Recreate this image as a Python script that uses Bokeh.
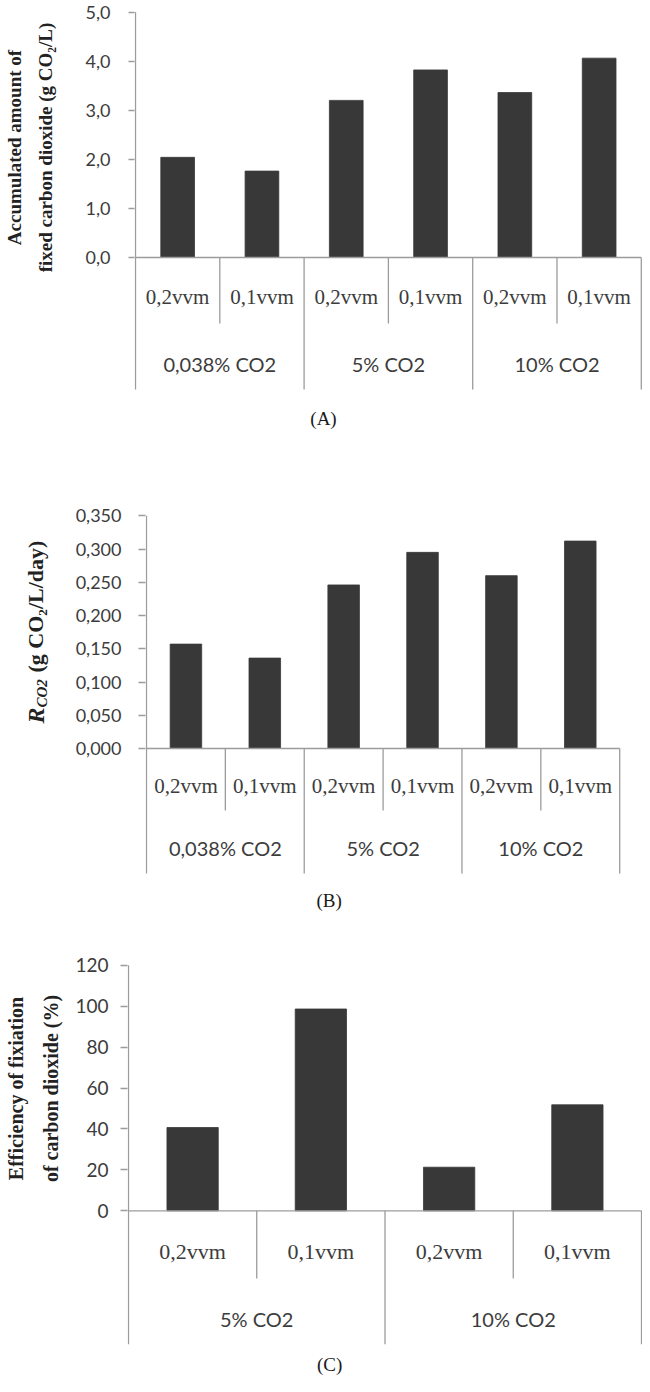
import math
from bokeh.plotting import figure
from bokeh.models import Range1d, FixedTicker
from bokeh.layouts import column, row
from bokeh.embed import file_html
from bokeh.resources import INLINE
from bokeh.core.properties import value

# ---------------- data ----------------
a_sub = ["0,2vvm", "0,1vvm", "0,2vvm", "0,1vvm", "0,2vvm", "0,1vvm"]
a_groups = ["0,038% CO2", "5% CO2", "10% CO2"]
a_values = [2.04, 1.76, 3.20, 3.82, 3.36, 4.06]
a_ticks = [0, 1, 2, 3, 4, 5]
a_tick_labels = ["0,0", "1,0", "2,0", "3,0", "4,0", "5,0"]
a_title = ["Accumulated amount of", "fixed carbon dioxide (g CO\u2082/L)"]
a_caption = "(A)"

b_sub = ["0,2vvm", "0,1vvm", "0,2vvm", "0,1vvm", "0,2vvm", "0,1vvm"]
b_groups = ["0,038% CO2", "5% CO2", "10% CO2"]
b_values = [0.157, 0.136, 0.246, 0.295, 0.260, 0.312]
b_ticks = [0, 0.05, 0.10, 0.15, 0.20, 0.25, 0.30, 0.35]
b_tick_labels = ["0,000", "0,050", "0,100", "0,150", "0,200", "0,250", "0,300", "0,350"]
b_title = ["R", "CO2", "(g CO\u2082/L/day)"]
b_caption = "(B)"

c_sub = ["0,2vvm", "0,1vvm", "0,2vvm", "0,1vvm"]
c_groups = ["5% CO2", "10% CO2"]
c_values = [40.7, 98.6, 21.3, 51.8]
c_ticks = [0, 20, 40, 60, 80, 100, 120]
c_tick_labels = ["0", "20", "40", "60", "80", "100", "120"]
c_title = ["Efficiency of fixiation", "of carbon dioxide (%)"]
c_caption = "(C)"

# ---------------- layout (page pixels) ----------------
PAGE_LEFT = 8
PAGE_RIGHT = 650
TITLE_W = 72
BAR = "#383838"
LINE = "#9c9c9c"
TXT = "#3c3c3c"
TITLE_C = "#222222"

LA = dict(fig_top=8, fig_h=432, axis_x=143, slot=84.3, zero_y=265, top_y=19.5,
          sub_y=304, short_b=331, group_y=371, long_b=397, cap_y=426,
          tick_out=6, standoff=18, tick_fs="18px", sub_fs="21px", grp_fs="20px")
LB = dict(fig_top=440, fig_h=485, axis_x=145, slot=80.3, zero_y=756, top_y=523.3,
          sub_y=793.5, short_b=818, group_y=855, long_b=881, cap_y=908,
          tick_out=7, standoff=17, tick_fs="18px", sub_fs="21px", grp_fs="20px")
LC = dict(fig_top=925, fig_h=459, axis_x=126, slot=130.75, zero_y=1218.3, top_y=972.7,
          sub_y=1259.3, short_b=1286, group_y=1326, long_b=1351.7, cap_y=1372,
          tick_out=7, standoff=12, tick_fs="19px", sub_fs="22px", grp_fs="20px")


def title_panel(L):
    """Narrow figure left of the chart that holds the rotated y-axis title."""
    top, h = L["fig_top"], L["fig_h"]
    t = figure(width=TITLE_W, height=h,
               x_range=Range1d(PAGE_LEFT, PAGE_LEFT + TITLE_W),
               y_range=Range1d(-(top + h), -top),
               output_backend="svg", toolbar_location=None, tools="",
               x_axis_location=None, y_axis_location=None,
               min_border_left=0, min_border_right=0,
               min_border_top=0, min_border_bottom=0)
    t.outline_line_color = None
    t.grid.visible = False
    return t


def make_chart(sub, groups, values, ticks, tick_labels, caption, L):
    top, h = L["fig_top"], L["fig_h"]
    left, slot = L["axis_x"], L["slot"]
    y0 = L["zero_y"]
    unit = (y0 - L["top_y"]) / ticks[-1]
    n = len(values)

    def xd(px):
        return (px - left) / slot

    def yd(py):
        return (y0 - py) / unit

    x_start = -1.0 / slot
    x_end = (PAGE_RIGHT - left) / slot
    p = figure(width=PAGE_RIGHT - PAGE_LEFT - TITLE_W, height=h,
               x_range=Range1d(x_start, x_end),
               y_range=Range1d(yd(top + h), yd(top)),
               output_backend="svg", toolbar_location=None, tools="",
               x_axis_location=None,
               min_border_left=int(round(left - 1 - PAGE_LEFT - TITLE_W)),
               min_border_right=0, min_border_top=0, min_border_bottom=0)
    p.outline_line_color = None
    p.grid.visible = False

    ax = p.yaxis[0]
    ax.ticker = FixedTicker(ticks=ticks)
    ax.major_label_overrides = {t: lab for t, lab in zip(ticks, tick_labels)}
    ax.axis_line_color = None
    ax.major_tick_line_color = LINE
    ax.major_tick_line_width = 1.3
    ax.major_tick_out = L["tick_out"]
    ax.major_tick_in = 0
    ax.minor_tick_line_color = None
    ax.major_label_standoff = L["standoff"]
    ax.major_label_text_font = "Lato"
    ax.major_label_text_font_size = L["tick_fs"]
    ax.major_label_text_color = TXT

    centers = [i + 0.5 for i in range(n)]
    p.vbar(x=centers, top=values, bottom=0, width=0.4,
           fill_color=BAR, line_color=BAR, line_width=0.8)

    # x-axis line, y-axis line and category dividers
    x0s, y0s, x1s, y1s = [0, 0], [0, ticks[-1]], [n, 0], [0, yd(L["long_b"])]
    for k in range(1, n + 1):
        bottom = yd(L["long_b"]) if k % 2 == 0 else yd(L["short_b"])
        x0s.append(k); y0s.append(0); x1s.append(k); y1s.append(bottom)
    p.segment(x0=x0s, y0=y0s, x1=x1s, y1=y1s, line_color=LINE, line_width=1.3)

    p.text(x=centers, y=[yd(L["sub_y"])] * n, text=sub,
           text_align="center", text_baseline="middle",
           text_font=value("Liberation Serif"), text_font_size=value(L["sub_fs"]),
           text_color=TXT)
    gx = [2 * g + 1 for g in range(len(groups))]
    p.text(x=gx, y=[yd(L["group_y"])] * len(groups), text=groups,
           text_align="center", text_baseline="middle",
           text_font=value("Lato"), text_font_size=value(L["grp_fs"]),
           text_color=TXT)
    p.text(x=[xd(331)], y=[yd(L["cap_y"])], text=[caption],
           text_align="center", text_baseline="middle",
           text_font=value("Liberation Serif"), text_font_size=value("19px"),
           text_color="#1a1a1a")
    return p


def rot_text(t, xs, ys, texts, size, style, align="center"):
    t.text(x=xs, y=[-y for y in ys], text=texts, angle=math.pi / 2,
           text_align=align, text_baseline="middle",
           text_font=value("Liberation Serif"), text_font_style=style,
           text_font_size=value(size), text_color=TITLE_C)


# Chart A
pA = make_chart(a_sub, a_groups, a_values, a_ticks, a_tick_labels, a_caption, LA)
tA = title_panel(LA)
rot_text(tA, [22, 53], [155, 155], a_title, "19px", "bold")

# Chart B
pB = make_chart(b_sub, b_groups, b_values, b_ticks, b_tick_labels, b_caption, LB)
tB = title_panel(LB)
start = 731
rot_text(tB, [43], [start], [b_title[0]], "24px", "bold italic", "left")
rot_text(tB, [49], [start - 16], [b_title[1]], "15px", "bold italic", "left")
rot_text(tB, [43], [start - 51], [b_title[2]], "22px", "bold", "left")

# Chart C
pC = make_chart(c_sub, c_groups, c_values, c_ticks, c_tick_labels, c_caption, LC)
tC = title_panel(LC)
rot_text(tC, [23, 58], [1096, 1096], c_title, "20px", "bold")

layout = column(row(tA, pA, spacing=0), row(tB, pB, spacing=0),
                row(tC, pC, spacing=0), spacing=0)
open("out.html", "w").write(file_html(layout, INLINE))
